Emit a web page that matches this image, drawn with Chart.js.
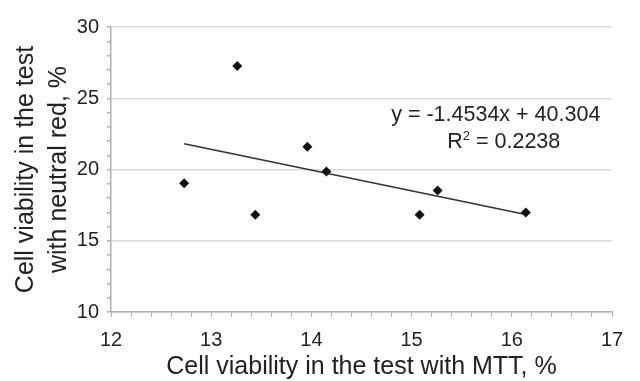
<!DOCTYPE html>
<html>
<head>
<meta charset="utf-8">
<script src="https://cdn.jsdelivr.net/npm/chart.js@4/dist/chart.umd.min.js"></script>
<style>
    html, body { margin: 0; padding: 0; background: #fff; }
    #box { width: 640px; height: 381px; }
</style>
</head>
<body>
<div id="box"><canvas id="grafico"></canvas></div>
<script>
// dados
const mtt = [12.73, 13.26, 13.44, 13.96, 14.15, 15.08, 15.26, 16.14]
const vermelhoNeutro = [19.03, 27.27, 16.82, 21.6, 19.86, 16.83, 18.52, 16.99]

// linha de tendência (equação mostrada no gráfico)
const inclinacao = -1.4534
const intercepto = 40.304
const r2 = 0.2238
const trendX = [12.73, 16.14]

const tituloX = 'Cell viability in the test with MTT, %'
const tituloY = ['Cell viability in the test', 'with neutral red, %']

const pontos = mtt.map((x, i) => ({ x: x, y: vermelhoNeutro[i] }))
const linha = trendX.map(x => ({ x: x, y: inclinacao * x + intercepto }))

const corTexto = '#222'
const corEixo = '#b0b0b0'
const fonte = 'Liberation Sans, Arial, sans-serif'

// escreve a equação e o R² na área do gráfico
const rotuloEquacao = {
    id: 'rotuloEquacao',
    afterDatasetsDraw(chart) {
        const ctx = chart.ctx
        const sx = chart.scales.x
        const sy = chart.scales.y
        const cx = sx.getPixelForValue(15.84)
        const y1 = sy.getPixelForValue(23.8)
        ctx.save()
        ctx.fillStyle = corTexto
        ctx.font = '21.5px ' + fonte
        ctx.textAlign = 'center'
        ctx.textBaseline = 'middle'
        ctx.fillText('y = ' + inclinacao + 'x + ' + intercepto, cx, y1)

        const y2 = y1 + 27
        const p1 = 'R'
        const p3 = ' = ' + r2
        ctx.font = '21.5px ' + fonte
        const w1 = ctx.measureText(p1).width
        const w3 = ctx.measureText(p3).width
        ctx.font = '13px ' + fonte
        const w2 = ctx.measureText('2').width
        let x = cx + 8 - (w1 + w2 + w3) / 2
        ctx.textAlign = 'left'
        ctx.font = '21.5px ' + fonte
        ctx.fillText(p1, x, y2)
        x += w1
        ctx.font = '13px ' + fonte
        ctx.fillText('2', x, y2 - 6)
        x += w2
        ctx.font = '21.5px ' + fonte
        ctx.fillText(p3, x, y2)
        ctx.restore()
    }
}

const config = {
    type: 'scatter',
    data: {
        datasets: [{
            label: 'pontos',
            data: pontos,
            pointStyle: 'rectRot',
            pointRadius: 5,
            backgroundColor: '#111',
            borderColor: '#111',
            borderWidth: 0
        },
        {
            label: 'tendencia',
            type: 'line',
            data: linha,
            showLine: true,
            pointRadius: 0,
            borderColor: '#333',
            borderWidth: 1.5,
            fill: false
        }]
    },
    options: {
        responsive: true,
        maintainAspectRatio: false,
        animation: false,
        layout: { padding: { top: 27, right: 28, left: 0, bottom: 0 } },
        plugins: {
            legend: { display: false },
            tooltip: { enabled: false }
        },
        scales: {
            x: {
                type: 'linear',
                min: 12,
                max: 17,
                afterFit: (s) => { s.height = 69 },
                border: { color: corEixo, width: 1.5 },
                grid: {
                    drawOnChartArea: false,
                    color: corEixo,
                    tickLength: 5
                },
                ticks: {
                    stepSize: 0.2,
                    autoSkip: false,
                    maxRotation: 0,
                    padding: 11,
                    color: corTexto,
                    font: { family: fonte, size: 20 },
                    callback: (v) => Math.abs(v - Math.round(v)) < 1e-6 ? Math.round(v) : ''
                },
                title: {
                    display: true,
                    text: tituloX,
                    color: corTexto,
                    font: { family: fonte, size: 25, lineHeight: 1 },
                    padding: { top: 0, bottom: 1 }
                }
            },
            y: {
                min: 10,
                max: 30,
                afterFit: (s) => { s.width = 111 },
                border: { color: corEixo, width: 1.5 },
                grid: {
                    color: (c) => c.tick && c.tick.value % 5 === 0 ? '#dadada' : 'rgba(0,0,0,0)',
                    lineWidth: 1.5,
                    tickColor: corEixo,
                    tickLength: 4
                },
                ticks: {
                    stepSize: 1,
                    autoSkip: false,
                    padding: 8,
                    color: corTexto,
                    font: { family: fonte, size: 20 },
                    callback: (v) => v % 5 === 0 ? v : ''
                },
                title: {
                    display: true,
                    text: tituloY,
                    color: corTexto,
                    font: { family: fonte, size: 25, lineHeight: 1.32 },
                    padding: { top: 10, bottom: 0 }
                }
            }
        }
    },
    plugins: [rotuloEquacao]
}

new Chart(document.getElementById('grafico'), config)
</script>
</body>
</html>
